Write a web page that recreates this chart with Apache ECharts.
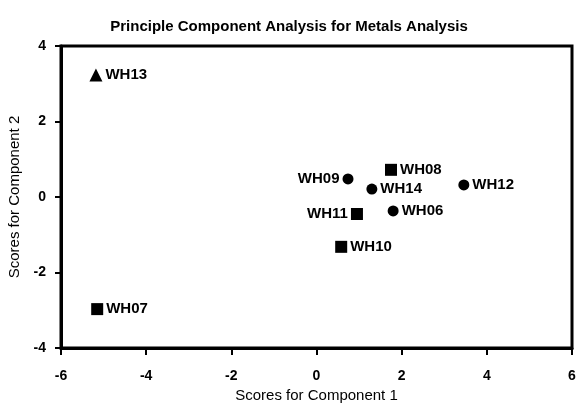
<!DOCTYPE html>
<html>
<head>
<meta charset="utf-8">
<script src="https://cdn.jsdelivr.net/npm/echarts@6/dist/echarts.min.js"></script>
<style>
  html, body { margin: 0; padding: 0; background: #fff; }
  #chart { width: 578px; height: 405px; }
</style>
</head>
<body>
<div id="chart"></div>
<script>
// PCA scores, grouped by marker shape
const circleNames = ["WH09", "WH14", "WH12", "WH06"];
const circleX = [0.74, 1.30, 3.46, 1.80];
const circleY = [0.48, 0.21, 0.32, -0.37];

const squareNames = ["WH08", "WH11", "WH10", "WH07"];
const squareX = [1.75, 0.95, 0.58, -5.15];
const squareY = [0.72, -0.45, -1.32, -2.97];

const triangleNames = ["WH13"];
const triangleX = [-5.18];
const triangleY = [3.23];

const xTicks = [-6, -4, -2, 0, 2, 4, 6];
const yTicks = [-4, -2, 0, 2, 4];

const fontFamily = "'Liberation Sans', Arial, sans-serif";
const labelLeft = ["WH09", "WH11"];

const chart = echarts.init(document.getElementById("chart"));

function makeSeries(names, xs, ys, symbol, size) {
  return {
    type: "scatter",
    symbol: symbol,
    symbolSize: size,
    itemStyle: { color: "#000", opacity: 1 },
    data: names.map((n, i) => ({
      name: n,
      value: [xs[i], ys[i]],
      label: { position: labelLeft.includes(n) ? "left" : "right" },
    })),
    label: {
      show: true,
      formatter: "{b}",
      color: "#000",
      fontFamily: fontFamily,
      fontSize: 15,
      fontWeight: "bold",
      distance: 3,
    },
  };
}

const axisText = { fontFamily: fontFamily, fontSize: 15, color: "#000" };

const option = {
  animation: false,
  title: {
    text: "Principle Component Analysis for Metals Analysis",
    left: "center",
    top: 14,
    textStyle: {
      fontFamily: fontFamily,
      fontSize: 15,
      fontWeight: "bold",
      color: "#000",
    },
  },
  grid: {
    left: 61,
    right: 6,
    top: 46,
    bottom: 57,
    outerBoundsMode: "none",
    containLabel: false,
    show: true,
    borderColor: "#000",
    borderWidth: 3,
  },
  xAxis: {
    type: "value",
    min: xTicks[0],
    max: xTicks[xTicks.length - 1],
    interval: 2,
    name: "Scores for Component 1",
    nameLocation: "middle",
    nameGap: 40,
    nameTextStyle: axisText,
    axisLine: { show: true, onZero: false, lineStyle: { color: "#000", width: 3 } },
    axisTick: { show: true, inside: false, length: 7, lineStyle: { color: "#000", width: 2 } },
    axisLabel: {
      fontFamily: fontFamily,
      fontSize: 14,
      fontWeight: "bold",
      color: "#000",
      margin: 21,
      formatter: (v) => (xTicks.includes(v) ? String(v) : ""),
    },
    splitLine: { show: false },
  },
  yAxis: {
    type: "value",
    min: yTicks[0],
    max: yTicks[yTicks.length - 1],
    interval: 2,
    name: "Scores for Component 2",
    nameLocation: "middle",
    nameGap: 37,
    nameTextStyle: axisText,
    axisLine: { show: true, onZero: false, lineStyle: { color: "#000", width: 3 } },
    axisTick: { show: true, inside: false, length: 6, lineStyle: { color: "#000", width: 2 } },
    axisLabel: {
      fontFamily: fontFamily,
      fontSize: 14,
      fontWeight: "bold",
      color: "#000",
      margin: 15,
      formatter: (v) => (yTicks.includes(v) ? String(v) : ""),
    },
    splitLine: { show: false },
  },
  series: [
    makeSeries(circleNames, circleX, circleY, "circle", 11),
    makeSeries(squareNames, squareX, squareY, "rect", 12),
    makeSeries(triangleNames, triangleX, triangleY, "triangle", 13),
  ],
};

chart.setOption(option);
</script>
</body>
</html>
